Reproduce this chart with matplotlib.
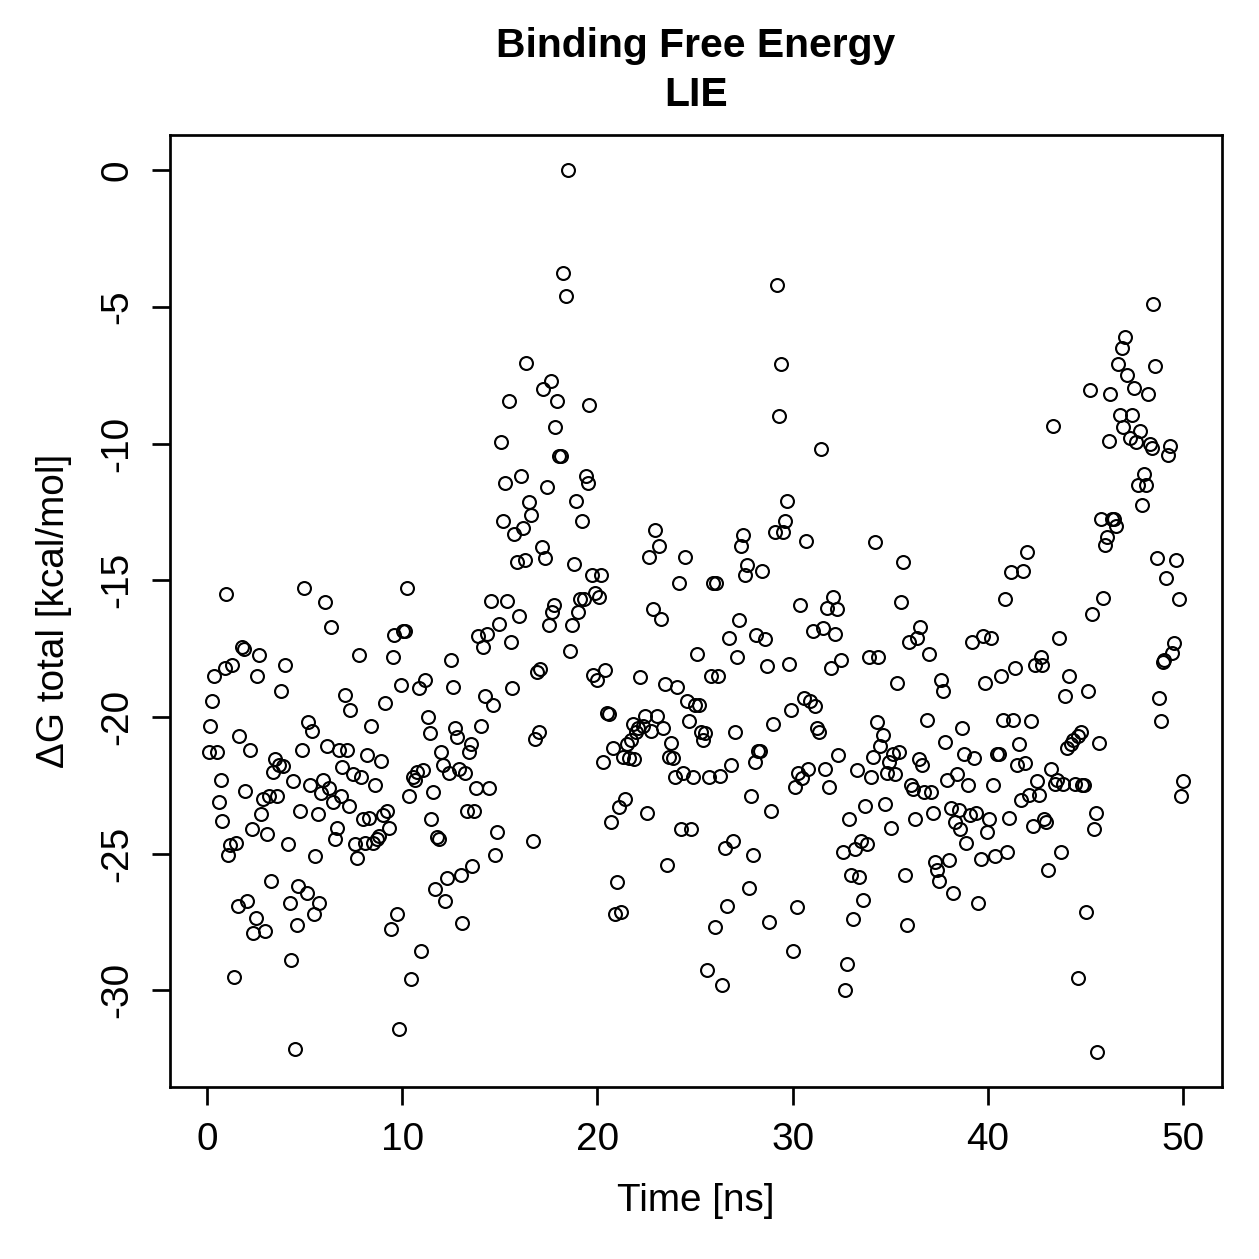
import numpy as np
import matplotlib.pyplot as plt

plt.rcParams['font.family'] = ['Liberation Sans', 'DejaVu Sans']

# time [ns] and dG total [kcal/mol]
time_ns = [
    0.1, 0.15, 0.25, 0.35, 0.5, 0.6, 0.7, 0.75, 0.9, 0.95, 1.1, 1.2, 1.3, 1.4, 1.5, 1.6, 1.65, 1.8, 1.9, 1.95,
    2.05, 2.2, 2.3, 2.35, 2.5, 2.55, 2.65, 2.75, 2.85, 2.95, 3.05, 3.2, 3.3, 3.4, 3.5, 3.6, 3.7, 3.8, 3.9, 4.0,
    4.15, 4.25, 4.3, 4.4, 4.5, 4.6, 4.65, 4.75, 4.85, 4.95,
    5.1, 5.2, 5.3, 5.4, 5.5, 5.55, 5.7, 5.75, 5.85, 5.95, 6.05, 6.15, 6.25, 6.35, 6.45, 6.55, 6.65, 6.75, 6.85, 6.9,
    7.05, 7.15, 7.25, 7.35, 7.5, 7.6, 7.7, 7.8, 7.9, 8.0, 8.1, 8.2, 8.3, 8.4, 8.5, 8.6, 8.7, 8.8, 8.9, 9.0,
    9.1, 9.2, 9.3, 9.45, 9.55, 9.6, 9.75, 9.85, 9.95, 10.05, 10.15,
    10.25, 10.35, 10.45, 10.55, 10.65, 10.75, 10.85, 10.95, 11.05, 11.15, 11.3, 11.4, 11.5, 11.6, 11.7, 11.8, 11.9,
    12.0, 12.1, 12.2, 12.3, 12.4, 12.5, 12.6, 12.7, 12.8, 12.9, 13.0, 13.05, 13.2, 13.3, 13.4, 13.5, 13.6, 13.7,
    13.8, 13.9, 14.05, 14.15, 14.25, 14.35, 14.45, 14.55, 14.65, 14.75, 14.85, 14.95, 15.05,
    15.15, 15.25, 15.35, 15.45, 15.55, 15.65, 15.75, 15.9, 16.0, 16.1, 16.2, 16.3, 16.35, 16.5, 16.6, 16.7, 16.8,
    16.9, 17.0, 17.05, 17.15, 17.2, 17.3, 17.4, 17.5, 17.6, 17.7, 17.8, 17.85, 17.95, 18.05, 18.15, 18.25, 18.4,
    18.5, 18.6, 18.7, 18.8, 18.9, 19.0, 19.1, 19.2, 19.3, 19.4, 19.5, 19.55, 19.7, 19.8, 19.9, 20.0,
    20.1, 20.2, 20.3, 20.4, 20.5, 20.6, 20.7, 20.8, 20.9, 21.0, 21.1, 21.2, 21.3, 21.4, 21.5, 21.6, 21.7, 21.8,
    21.9, 22.0, 22.1, 22.2, 22.35, 22.45, 22.55, 22.65, 22.75, 22.85, 22.95, 23.05, 23.15, 23.25, 23.35, 23.45,
    23.55, 23.65, 23.75, 23.85, 23.95, 24.1, 24.2, 24.3, 24.4, 24.5, 24.6, 24.7, 24.8, 24.9, 25.0,
    25.1, 25.2, 25.3, 25.4, 25.5, 25.6, 25.7, 25.8, 25.9, 26.0, 26.1, 26.2, 26.3, 26.4, 26.55, 26.65, 26.75,
    26.85, 26.95, 27.05, 27.15, 27.25, 27.35, 27.45, 27.55, 27.65, 27.75, 27.85, 27.95, 28.05, 28.15, 28.25,
    28.35, 28.45, 28.6, 28.7, 28.8, 28.9, 29.0, 29.1, 29.2, 29.3, 29.4, 29.5, 29.6, 29.7, 29.8, 29.9, 30.0,
    30.1, 30.2, 30.3, 30.4, 30.5, 30.6, 30.7, 30.8, 30.9, 31.05, 31.15, 31.25, 31.35, 31.45, 31.55, 31.65, 31.75,
    31.85, 31.95, 32.05, 32.15, 32.25, 32.35, 32.5, 32.6, 32.7, 32.8, 32.9, 33.0, 33.1, 33.2, 33.3, 33.4, 33.5,
    33.6, 33.7, 33.8, 33.9, 34.0, 34.1, 34.2, 34.3, 34.4, 34.5, 34.65, 34.75, 34.85, 34.95, 35.05,
    35.15, 35.25, 35.35, 35.45, 35.55, 35.65, 35.75, 35.85, 35.95, 36.05, 36.15, 36.25, 36.35, 36.45, 36.55,
    36.65, 36.75, 36.9, 37.0, 37.1, 37.2, 37.3, 37.4, 37.5, 37.6, 37.7, 37.8, 37.9, 38.0, 38.1, 38.2, 38.3, 38.4,
    38.5, 38.6, 38.7, 38.8, 38.9, 39.0, 39.1, 39.2, 39.3, 39.4, 39.5, 39.65, 39.75, 39.85, 39.95, 40.05,
    40.15, 40.25, 40.35, 40.45, 40.55, 40.65, 40.8, 40.9, 41.0, 41.1, 41.2, 41.3, 41.4, 41.5, 41.6, 41.7, 41.8,
    41.9, 42.0, 42.1, 42.2, 42.3, 42.4, 42.5, 42.6, 42.7, 42.8, 42.9, 43.0, 43.1, 43.25, 43.35, 43.45, 43.55,
    43.65, 43.75, 43.85, 43.95, 44.05, 44.15, 44.25, 44.35, 44.45, 44.6, 44.6, 44.75, 44.85, 44.95, 45.05,
    45.15, 45.25, 45.35, 45.45, 45.55, 45.6, 45.7, 45.8, 45.9, 46.0, 46.1, 46.2, 46.25, 46.35, 46.45, 46.55,
    46.65, 46.75, 46.85, 46.95, 47.05, 47.15, 47.3, 47.4, 47.5, 47.6, 47.7, 47.8, 47.9, 48.0, 48.1, 48.2, 48.3,
    48.4, 48.45, 48.55, 48.65, 48.75, 48.85, 48.95, 49.05, 49.15, 49.25, 49.35, 49.45, 49.55, 49.65, 49.8,
    49.9, 50.0,
]

dg_total = [
    -21.3, -20.35, -19.4, -18.5, -21.3, -23.1, -22.3, -23.8, -18.2, -15.5, -25.05, -24.7, -18.1, -29.5, -24.6,
    -26.9, -20.7, -17.45, -17.5, -22.7, -26.75, -21.2, -24.1, -27.9, -27.35, -18.5, -17.75, -23.55, -23.0, -27.85,
    -24.3, -22.9, -26.0, -22.0, -21.55, -22.9, -21.75, -19.05, -21.8, -18.1, -24.65, -26.8, -28.9, -22.35, -32.15,
    -27.6, -26.2, -23.45, -21.2, -15.3,
    -26.45, -20.2, -22.5, -20.5, -27.2, -25.1, -23.55, -26.8, -22.8, -22.3, -15.8, -21.05, -22.6, -16.7, -23.1,
    -24.45, -24.05, -21.2, -22.9, -21.85, -19.2, -21.2, -23.25, -19.75, -22.1, -24.65, -25.15, -17.75, -22.2,
    -23.75, -24.6, -21.4, -23.7, -20.35, -24.6, -22.5, -24.45, -24.35, -21.6, -23.6, -19.5, -23.45, -24.05,
    -27.75, -17.8, -17.0, -27.2, -31.4, -18.85, -16.85, -16.85,
    -15.3, -22.9, -29.6, -22.2, -22.3, -22.0, -18.95, -28.55, -21.95, -18.65, -20.0, -20.6, -23.75, -22.75,
    -26.3, -24.4, -24.45, -21.3, -21.75, -26.75, -25.9, -22.05, -17.9, -18.9, -20.4, -20.75, -21.9, -25.8,
    -27.55, -22.05, -23.45, -21.3, -21.0, -25.45, -23.45, -22.6, -17.05, -20.35, -17.45, -19.25, -16.95, -22.6,
    -15.75, -19.55, -25.05, -24.2, -16.6, -9.95,
    -12.85, -11.45, -15.75, -8.45, -17.25, -18.95, -13.3, -14.35, -16.3, -11.2, -13.1, -14.25, -7.05, -12.15,
    -12.6, -24.55, -20.8, -18.35, -20.55, -18.25, -13.8, -8.0, -14.2, -11.6, -16.65, -7.7, -16.15, -15.9, -9.4,
    -8.45, -10.45, -10.45, -3.75, -4.6, 0.0, -17.6, -16.65, -14.4, -12.1, -16.15, -15.7, -12.85, -15.7, -11.2,
    -11.45, -8.6, -14.8, -18.45, -15.45, -18.65,
    -15.6, -14.8, -21.65, -18.3, -19.85, -19.9, -23.85, -21.15, -27.2, -26.05, -23.3, -27.15, -21.45, -23.0,
    -21.0, -21.5, -20.85, -20.25, -21.55, -20.55, -20.4, -18.55, -20.35, -19.95, -23.5, -14.15, -20.5, -16.05,
    -13.15, -19.95, -13.75, -16.4, -20.4, -18.8, -25.4, -21.45, -20.95, -21.5, -22.2, -18.9, -15.1, -24.1,
    -22.05, -14.15, -19.4, -20.15, -24.1, -22.2, -19.55,
    -17.7, -19.55, -20.55, -20.85, -20.6, -29.25, -22.2, -18.5, -15.1, -27.7, -15.1, -18.5, -22.15, -29.8,
    -24.8, -26.9, -17.1, -21.75, -24.55, -20.55, -17.8, -16.45, -13.75, -13.35, -14.8, -14.45, -26.25, -22.9,
    -25.05, -21.65, -17.0, -21.25, -21.25, -14.65, -17.15, -18.15, -27.5, -23.45, -20.25, -13.25, -4.2, -9.0,
    -7.1, -13.25, -12.85, -12.1, -18.05, -19.75, -28.55,
    -22.55, -26.95, -22.05, -15.9, -22.25, -19.3, -13.55, -21.9, -19.4, -16.85, -19.6, -20.4, -20.55, -10.2,
    -16.75, -21.9, -16.0, -22.55, -18.2, -15.6, -16.95, -16.05, -21.4, -17.9, -24.95, -30.0, -29.05, -23.75,
    -25.8, -27.4, -24.85, -21.95, -25.85, -24.55, -26.7, -23.25, -24.65, -17.8, -22.2, -21.45, -13.6, -20.2,
    -17.8, -21.05, -20.65, -23.2, -22.05, -21.65, -24.05,
    -21.35, -22.1, -18.75, -21.3, -15.8, -14.35, -25.8, -27.6, -17.25, -22.5, -22.65, -23.75, -17.1, -21.55,
    -16.7, -21.75, -22.75, -20.1, -17.7, -22.75, -23.5, -25.3, -25.6, -26.0, -18.65, -19.05, -20.9, -22.3,
    -25.25, -23.35, -26.45, -23.85, -22.1, -23.4, -24.1, -20.4, -21.35, -24.6, -22.5, -23.6, -17.25, -21.5,
    -23.5, -26.8, -25.2, -17.05, -18.75, -24.2, -23.75,
    -17.1, -22.5, -25.1, -21.35, -21.35, -18.5, -20.1, -15.7, -24.95, -23.7, -14.7, -20.1, -18.2, -21.75,
    -21.0, -23.05, -14.65, -21.7, -13.95, -22.85, -20.15, -24.0, -18.1, -22.35, -22.85, -17.8, -18.1, -23.75,
    -23.85, -25.6, -21.9, -9.35, -22.45, -22.3, -17.1, -24.95, -22.45, -19.25, -21.15, -18.5, -21.0, -20.85,
    -22.45, -29.55, -20.7, -20.55, -22.5, -22.5, -27.15,
    -19.05, -8.05, -16.25, -24.1, -23.5, -32.25, -20.95, -12.75, -15.65, -13.7, -13.4, -9.9, -8.2, -12.75,
    -12.75, -13.0, -7.1, -8.95, -6.5, -9.4, -6.1, -7.5, -9.8, -8.95, -7.95, -9.95, -11.5, -9.55, -12.25, -11.1,
    -11.5, -8.2, -10.0, -10.15, -4.9, -7.15, -14.2, -19.3, -20.15, -18.0, -17.9, -14.9, -10.4, -10.1, -17.65,
    -17.3, -14.25, -15.7, -22.9, -22.35,
]

x_ticks = [0, 10, 20, 30, 40, 50]
y_ticks = [0, -5, -10, -15, -20, -25, -30]

t = np.array(time_ns)
dg = np.array(dg_total)

fig = plt.figure(figsize=(1259 / 300, 1259 / 300), dpi=300)
ax = fig.add_axes([0.135, 0.1366, 0.8356, 0.7562])

ax.plot(t, dg, 'o', mfc='none', mec='black', ms=3.1, mew=0.5)

# R style 4% padding
xr = t.max() - t.min()
yr = dg.max() - dg.min()
ax.set_xlim(t.min() - 0.04 * xr, t.max() + 0.04 * xr)
ax.set_ylim(dg.min() - 0.04 * yr, dg.max() + 0.04 * yr)

ax.set_xticks(x_ticks)
ax.set_yticks(y_ticks)
ax.set_yticklabels([str(v) for v in y_ticks], rotation=90, va='center')
ax.tick_params(direction='out', length=4.3, width=0.65, labelsize=9.3, pad=4, colors='black')

for s in ax.spines.values():
    s.set_linewidth(0.65)
    s.set_color('black')

ax.set_xlabel('Time [ns]', fontsize=9.3, labelpad=6)
ax.set_ylabel('ΔG total [kcal/mol]', fontsize=9.3, labelpad=6.5)
ax.set_title('Binding Free Energy\nLIE', fontsize=9.8, fontweight='bold', pad=7, linespacing=1.35)

fig.savefig('out.png', dpi=300)
